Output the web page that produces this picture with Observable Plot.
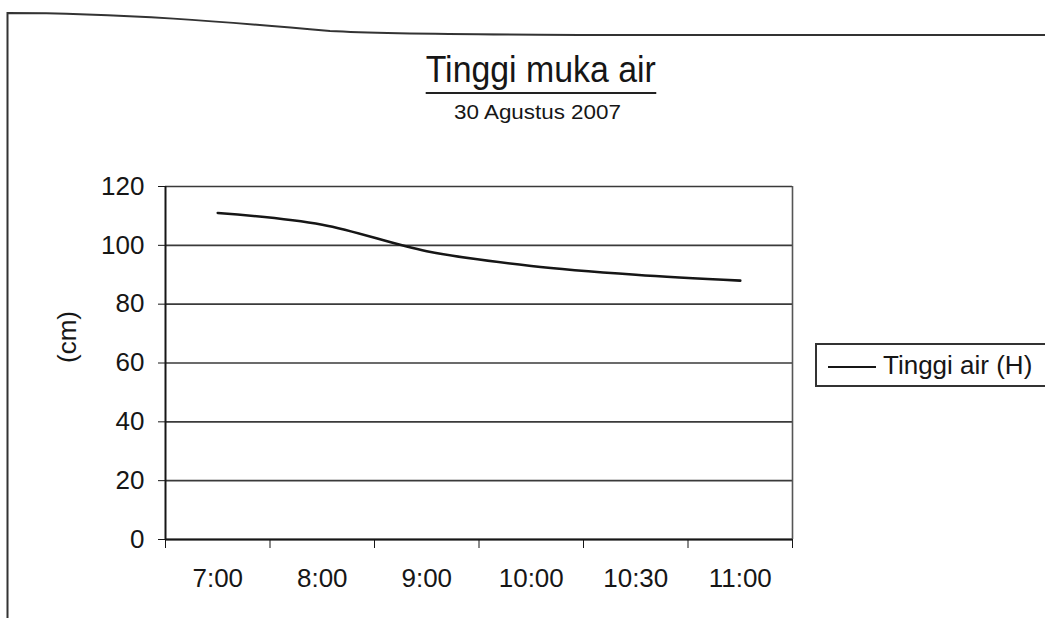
<!DOCTYPE html>
<html>
<head>
<meta charset="utf-8">
<script src="https://cdn.jsdelivr.net/npm/d3@7"></script>
<script src="https://cdn.jsdelivr.net/npm/@observablehq/plot@0.6"></script>
<style>
  body { margin: 0; background: #fff; font-family: "Liberation Sans", Arial, sans-serif; color: #161616; }
  #page { position: relative; width: 1045px; height: 618px; overflow: hidden; background: #fff; }
  #border { position: absolute; left: 0; top: 0; }
  #title { position: absolute; left: 0; width: 1082px; top: 50px; text-align: center; }
  #title span { display: inline-block; font-size: 37px; line-height: 40px; border-bottom: 2.5px solid #222;
                transform: scaleX(0.915); padding: 0 0 2px; }
  #subtitle { position: absolute; left: 0; width: 1076px; top: 100px; text-align: center; }
  #subtitle span { display: inline-block; font-size: 20px; line-height: 24px; transform: scaleX(1.12); }
  #chart { position: absolute; left: 0; top: 140px; }
  #legend { position: absolute; left: 815px; top: 343px; width: 260px; height: 44px;
            border: 2px solid #333; box-sizing: border-box; }
  #legend .swatch { position: absolute; left: 11px; top: 21px; width: 48px; border-top: 2px solid #161616; }
  #legend .label { position: absolute; left: 66px; top: 5px; font-size: 26px; line-height: 30px; white-space: nowrap; }
</style>
</head>
<body>
<div id="page">
  <svg id="border" width="1045" height="618">
    <path d="M7.5,618 L7.5,13 C120,13 230,22 330,31 C420,36 700,35 1045,35" fill="none" stroke="#333" stroke-width="2"/>
  </svg>
  <div id="title"><span>Tinggi muka air</span></div>
  <div id="subtitle"><span>30 Agustus 2007</span></div>
  <div id="chart"></div>
  <div id="legend"><div class="swatch"></div><div class="label">Tinggi air (H)</div></div>
</div>
<script>
// Water level readings on 30 August 2007
const times = ["7:00", "8:00", "9:00", "10:00", "10:30", "11:00"];
const tinggi = [111, 107, 98, 93, 90, 88];
const yTicks = [0, 20, 40, 60, 80, 100, 120];

const rows = times.map((t, i) => ({slot: i + 0.5, waktu: t, h: tinggi[i]}));
const slotEdges = d3.range(times.length + 1);
const slotCenters = rows.map(d => d.slot);

const ink = "#161616";

const chart = Plot.plot({
  width: 1045,
  height: 478,
  marginLeft: 165,
  marginRight: 253,
  marginTop: 46,
  marginBottom: 79,
  style: {fontFamily: "Liberation Sans, Arial, sans-serif", fontSize: "26px", color: ink, background: "transparent"},
  x: {type: "linear", domain: [0, times.length]},
  y: {domain: [0, 120]},
  marks: [
    Plot.gridY(yTicks, {stroke: "#3a3a3a", strokeOpacity: 1, strokeWidth: 1.6}),
    Plot.ruleX([0], {y1: 0, y2: 120, stroke: ink, strokeWidth: 2}),
    Plot.ruleX([times.length], {y1: 0, y2: 120, stroke: "#555", strokeWidth: 1.6}),
    Plot.ruleY([0], {stroke: ink, strokeWidth: 2}),
    Plot.axisY(yTicks, {tickSize: 7, tickPadding: 14, label: null, stroke: ink}),
    Plot.text(["(cm)"], {frameAnchor: "left", dx: -98, rotate: -90, fontSize: 26, fill: ink}),
    Plot.axisX(slotEdges, {tickSize: 9, tickFormat: () => "", label: null, stroke: ink}),
    Plot.axisX(slotCenters, {tickSize: 0, tickPadding: 29, tickFormat: (d) => times[d - 0.5], label: null, fill: ink}),
    Plot.line(rows, {x: "slot", y: "h", stroke: ink, strokeWidth: 2.6, curve: "monotone-x"})
  ]
});
document.getElementById("chart").append(chart);
</script>
</body>
</html>
